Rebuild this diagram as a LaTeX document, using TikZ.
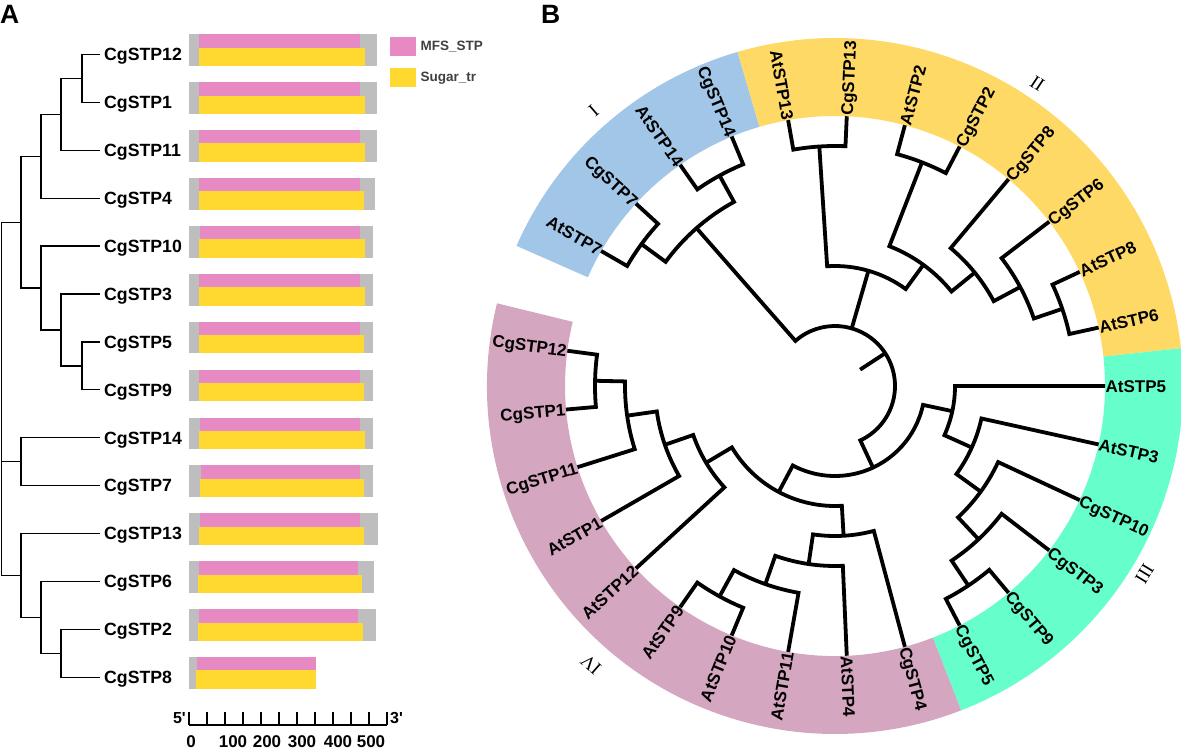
\documentclass[tikz,border=0pt]{standalone}
\usepackage{fontspec}
\setmainfont{Liberation Sans}
\newfontfamily\cladefont{Liberation Serif}
\usetikzlibrary{positioning}

\definecolor{mfs}{HTML}{E78AC3}
\definecolor{sugar}{HTML}{FFD92F}
\definecolor{barbg}{HTML}{BEBEBE}
\definecolor{ringI}{HTML}{A2C6E8}
\definecolor{ringII}{HTML}{FFD966}
\definecolor{ringIII}{HTML}{66FFCC}
\definecolor{ringIV}{HTML}{D4A6C0}
\definecolor{keygray}{HTML}{404040}

% ring piece between two angles
\newcommand\ringsector[3]{%
  \fill[#3] (#1:270) arc[start angle=#1, end angle=#2, radius=270]
    -- (#2:348) arc[start angle=#2, end angle=#1, radius=348] -- cycle;}
% parent arc at radius #1 joining child #3 (angle #2) and child #5 (angle #4)
\newcommand\cladearc[5]{%
  \draw[branch] (#3) -- (#2:#1) arc[start angle=#2, end angle=#4, radius=#1] -- (#5);}

\begin{document}
\begin{tikzpicture}
  [x=1pt, y=1pt,
   panel/.style={anchor=north west, inner sep=0pt, font=\fontsize{26.5}{30}\selectfont\bfseries},
   leafA/.style={anchor=west, inner sep=4pt, text height=12.7pt, text depth=0pt,
     font=\fontsize{17.7}{20}\selectfont\bfseries},
   treeA/.style={line width=1.3pt},
   key/.style={anchor=north west, minimum width=26pt, minimum height=19pt, inner sep=0pt},
   keylab/.style={inner sep=0pt, text=keygray, font=\fontsize{13.5}{16}\selectfont\bfseries},
   axisA/.style={line width=1.5pt},
   ticklab/.style={anchor=north, inner sep=0pt, font=\fontsize{17}{19}\selectfont\bfseries},
   endlab/.style={inner sep=0pt, font=\fontsize{16}{18}\selectfont\bfseries},
   branch/.style={line width=3.8pt},
   leafR/.style={anchor=west, inner sep=0.5pt, text height=12.2pt, text depth=0pt,
     font=\fontsize{17}{20}\selectfont\bfseries},
   leafL/.style={leafR, anchor=east},
   cladelab/.style={inner sep=0pt, font=\fontsize{19}{21}\selectfont\cladefont}]

  \useasboundingbox (0,0) rectangle (1181,-749);

  % ---- panel A ----
  \node[panel] (labA) at (0,-5) {A};

  \foreach \k/\g/\ps/\pe/\ys/\ye in {0/377/199/360/199/365, 1/377/199/360/199/365,
      2/377/199/360/199/365, 3/375/199/360/199/364, 4/373/200/360/199/365,
      5/373/199/360/199/365, 6/373/199/360/199/364, 7/373/199/360/199/364,
      8/373/200/360/199/365, 9/373/201/360/200/364, 10/378/200/360/199/364,
      11/374/199/358/198/362, 12/376/199/358/198/363, 13/316/197/316/196/316}
  {
    \pgfmathsetmacro\bartop{-34.3-47.9*\k}
    \fill[barbg] (189,\bartop) rectangle (\g,{\bartop-31.7});
    \fill[mfs] (\ps,\bartop) rectangle (\pe,{\bartop-13.4});
    \fill[sugar] (\ys,{\bartop-13.4}) rectangle (\ye,{\bartop-31.7});
  }

  \foreach \nm [count=\k from 0] in {CgSTP12,CgSTP1,CgSTP11,CgSTP4,CgSTP10,CgSTP3,
      CgSTP5,CgSTP9,CgSTP14,CgSTP7,CgSTP13,CgSTP6,CgSTP2,CgSTP8}
    \node[leafA] (a\nm) at (100,{-54.5-47.9*\k}) {\nm};

  \coordinate (aN1) at (82,-78.45);
  \coordinate (aN2) at (61,-114.38);
  \coordinate (aN3) at (41,-156.29);
  \coordinate (aN4) at (82,-365.85);
  \coordinate (aN5) at (61,-329.93);
  \coordinate (aN6) at (41,-288.01);
  \coordinate (aN7) at (21,-222.15);
  \coordinate (aN8) at (21,-461.65);
  \coordinate (aN9) at (61,-653.25);
  \coordinate (aN10) at (41,-617.33);
  \coordinate (aN11) at (21,-575.41);
  \coordinate (aN0) at (1.2,-398.8);

  \draw[treeA] (aCgSTP12.west) -| (aN1) |- (aCgSTP1.west);
  \draw[treeA] (aN1) -| (aN2) |- (aCgSTP11.west);
  \draw[treeA] (aN2) -| (aN3) |- (aCgSTP4.west);
  \draw[treeA] (aCgSTP5.west) -| (aN4) |- (aCgSTP9.west);
  \draw[treeA] (aCgSTP3.west) -| (aN5) |- (aN4);
  \draw[treeA] (aCgSTP10.west) -| (aN6) |- (aN5);
  \draw[treeA] (aN3) -| (aN7) |- (aN6);
  \draw[treeA] (aCgSTP14.west) -| (aN8) |- (aCgSTP7.west);
  \draw[treeA] (aCgSTP2.west) -| (aN9) |- (aCgSTP8.west);
  \draw[treeA] (aCgSTP6.west) -| (aN10) |- (aN9);
  \draw[treeA] (aCgSTP13.west) -| (aN11) |- (aN10);
  \draw[treeA] (aN7) -| (aN0) |- (aN11);
  \draw[treeA] (aN8) -- (aN0 |- aN8);

  % legend
  \node[key, fill=mfs] (keyMFS) at (390,-36.7) {};
  \node[keylab, right=4pt of keyMFS] (txtMFS) {MFS\_STP};
  \node[key, fill=sugar] (keySugar) at (390,-68.3) {};
  \node[keylab, right=4pt of keySugar] (txtSugar) {Sugar\_tr};

  % scale
  \draw[axisA] (189,-725) -- (387,-725);
  \foreach \t in {0,...,11}
    \draw[axisA] ({189+18*\t},-725) -- ++(0,13);
  \foreach \v/\x in {0/191,100/233,200/267,300/302,400/338,500/371}
    \node[ticklab] (tick\v) at (\x,-735.5) {\v};
  \node[endlab, anchor=south east] (end5) at (186,-723.5) {5\textquotesingle};
  \node[endlab, anchor=south west] (end3) at (390,-723.5) {3\textquotesingle};

  % ---- panel B ----
  \node[panel] (labB) at (541,-5) {B};

  \begin{scope}[shift={(835,-386)}]
    \ringsector{156.25}{106.25}{ringI}
    \ringsector{106.25}{6.25}{ringII}
    \ringsector{6.25}{-68.75}{ringIII}
    \ringsector{-68.75}{-193.75}{ringIV}

    \node[cladelab, rotate=41.25] (cI) at (131.25:366) {I};
    \node[cladelab, rotate=-33.75] (cII) at (56.25:364) {II};
    \node[cladelab, rotate=-121.25] (cIII) at (-31.25:362) {III};
    \node[cladelab, rotate=-221.25] (cIV) at (-131.25:370) {IV};

    % leaves
    \foreach \nm/\ang in {CgSTP13/87.5, AtSTP2/75, CgSTP2/62.5, CgSTP8/50,
        CgSTP6/37.5, AtSTP8/25, AtSTP6/12.5, AtSTP5/0, AtSTP3/-12.5, CgSTP10/-25,
        CgSTP3/-37.5, CgSTP9/-50, CgSTP5/-62.5, CgSTP4/-75, AtSTP4/-87.5}
    {
      \coordinate (b\nm) at (\ang:270);
      \node[leafR, rotate=\ang] (l\nm) at (b\nm) {\nm};
    }
    \foreach \nm/\ang in {AtSTP7/150, CgSTP7/137.5, AtSTP14/125, CgSTP14/112.5,
        AtSTP13/100, AtSTP11/-100, AtSTP10/-112.5, AtSTP9/-125, AtSTP12/-137.5,
        AtSTP1/-150, CgSTP11/-162.5, CgSTP1/-175, CgSTP12/-187.5}
    {
      \coordinate (b\nm) at (\ang:270);
      \node[leafL, rotate=\ang+180] (l\nm) at (b\nm) {\nm};
    }

    % inner nodes
    \coordinate (bB1) at (143.75:240);
    \coordinate (bB2) at (118.75:240);
    \coordinate (bBlue) at (131.25:210);
    \coordinate (bY13) at (93.75:240);
    \coordinate (bY22) at (68.75:240);
    \coordinate (bY5) at (18.75:240);
    \coordinate (bY4) at (28.125:210);
    \coordinate (bY3) at (39.0625:180);
    \coordinate (bY2) at (53.906:150);
    \coordinate (bY) at (73.828:120);
    \coordinate (bG5) at (-56.25:240);
    \coordinate (bG4) at (-46.875:210);
    \coordinate (bG3) at (-35.9375:180);
    \coordinate (bG2) at (-24.219:150);
    \coordinate (bG) at (-12.109:120);
    \coordinate (bP5) at (-118.75:240);
    \coordinate (bP4) at (-109.375:210);
    \coordinate (bP3) at (-98.4375:180);
    \coordinate (bP2) at (-86.719:150);
    \coordinate (bP8) at (-181.25:240);
    \coordinate (bP7) at (-171.875:210);
    \coordinate (bP6) at (-160.9375:180);
    \coordinate (bP1) at (-149.219:150);
    \coordinate (bP) at (-117.969:120);
    \coordinate (bGP) at (-65.039:90);
    \coordinate (bRoot) at (33.105:60);
    \coordinate (bStem) at (33.105:30);
    \coordinate (bYfoot) at (73.828:60);

    % clade I
    \cladearc{240}{150}{bAtSTP7}{137.5}{bCgSTP7}
    \cladearc{240}{125}{bAtSTP14}{112.5}{bCgSTP14}
    \cladearc{210}{143.75}{bB1}{118.75}{bB2}
    % clade II
    \cladearc{240}{100}{bAtSTP13}{87.5}{bCgSTP13}
    \cladearc{240}{75}{bAtSTP2}{62.5}{bCgSTP2}
    \cladearc{240}{25}{bAtSTP8}{12.5}{bAtSTP6}
    \cladearc{210}{37.5}{bCgSTP6}{18.75}{bY5}
    \cladearc{180}{50}{bCgSTP8}{28.125}{bY4}
    \cladearc{150}{68.75}{bY22}{39.0625}{bY3}
    \cladearc{120}{93.75}{bY13}{53.906}{bY2}
    % clade III
    \cladearc{240}{-50}{bCgSTP9}{-62.5}{bCgSTP5}
    \cladearc{210}{-37.5}{bCgSTP3}{-56.25}{bG5}
    \cladearc{180}{-25}{bCgSTP10}{-46.875}{bG4}
    \cladearc{150}{-12.5}{bAtSTP3}{-35.9375}{bG3}
    \cladearc{120}{0}{bAtSTP5}{-24.219}{bG2}
    % clade IV
    \cladearc{240}{-112.5}{bAtSTP10}{-125}{bAtSTP9}
    \cladearc{210}{-100}{bAtSTP11}{-118.75}{bP5}
    \cladearc{180}{-87.5}{bAtSTP4}{-109.375}{bP4}
    \cladearc{150}{-75}{bCgSTP4}{-98.4375}{bP3}
    \cladearc{240}{-175}{bCgSTP1}{-187.5}{bCgSTP12}
    \cladearc{210}{-162.5}{bCgSTP11}{-181.25}{bP8}
    \cladearc{180}{-150}{bAtSTP1}{-171.875}{bP7}
    \cladearc{150}{-137.5}{bAtSTP12}{-160.9375}{bP6}
    \cladearc{120}{-86.719}{bP2}{-149.219}{bP1}
    % root
    \cladearc{90}{-12.109}{bG}{-117.969}{bP}
    \cladearc{60}{131.25}{bBlue}{-65.039}{bGP}
    \draw[branch] (bY) -- (bYfoot);
    \draw[branch] (bStem) -- (bRoot);
  \end{scope}
\end{tikzpicture}
\end{document}
